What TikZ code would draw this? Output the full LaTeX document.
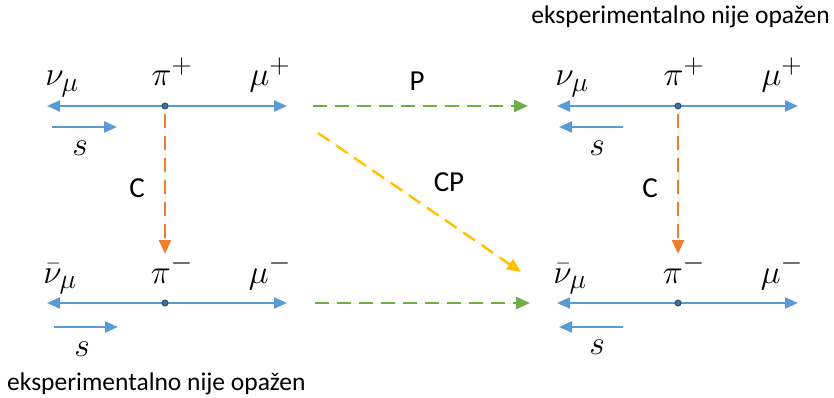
\documentclass[tikz,border=0pt]{standalone}
\usepackage{graphicx}
\usepackage{fontspec}
\setmainfont{Carlito}
\usetikzlibrary{arrows.meta}
\definecolor{cblue}{HTML}{5B9BD5}
\definecolor{cdot}{HTML}{41719C}
\definecolor{corange}{HTML}{ED7D31}
\definecolor{cgreen}{HTML}{70AD47}
\definecolor{cyellow}{HTML}{FFC000}
\newcommand{\partsym}[1]{\scalebox{1.35}{$#1$}}
\tikzset{
  axisline/.style={draw=cblue, line width=2.4pt, {Triangle[length=13pt,width=11pt]}-{Triangle[length=13pt,width=11pt]}},
  spinarrow/.style={draw=cblue, line width=2.4pt, -{Triangle[length=13pt,width=11pt]}},
  dashedarrow/.style={line width=2.4pt, dash pattern=on 14pt off 8pt, -{Triangle[length=14pt,width=12pt]}},
  particle/.style={font=\fontsize{24.88}{24.88}\selectfont, inner sep=0pt, anchor=base},
  optxt/.style={font=\fontsize{29}{29}\selectfont, inner sep=0pt, anchor=base},
  note/.style={font=\fontsize{25.5}{25.5}\selectfont, inner sep=0pt, anchor=base},
  pdot/.style={circle, fill=cdot, draw=cdot!70!black, line width=1pt, inner sep=0pt, minimum size=6pt}
}
\begin{document}
\begin{tikzpicture}[x=1pt,y=-1pt]
\useasboundingbox (0,0) rectangle (834,398);
% ---------- left top
\coordinate (LTl) at (47,106);
\coordinate (LTr) at (287,106);
\draw[axisline] (LTl) -- (LTr);
\node[pdot] (LTd) at (165,106) {};
\node[particle] (LTnu) at (62,86) {\partsym{\nu_\mu}};
\node[particle] (LTpi) at (172,86) {\partsym{\pi^+}};
\node[particle] (LTmu) at (270,86) {\partsym{\mu^+}};
\coordinate (LTs1) at (52,127);
\coordinate (LTs2) at (117,127);
\draw[spinarrow] (LTs1) -- (LTs2);
\node[particle] (LTs) at (80,156) {\partsym{s}};
% ---------- left bottom
\coordinate (LBl) at (47,303);
\coordinate (LBr) at (287,303);
\draw[axisline] (LBl) -- (LBr);
\node[pdot] (LBd) at (165,303) {};
\node[particle] (LBnu) at (60,283) {\partsym{\bar\nu_\mu}};
\node[particle] (LBpi) at (172,283) {\partsym{\pi^-}};
\node[particle] (LBmu) at (270,283) {\partsym{\mu^-}};
\coordinate (LBs1) at (54,327);
\coordinate (LBs2) at (118,327);
\draw[spinarrow] (LBs1) -- (LBs2);
\node[particle] (LBs) at (82,356) {\partsym{s}};
\node[note, anchor=base west] (LBnote) at (7,390) {eksperimentalno nije opažen};
% ---------- right top
\coordinate (RTl) at (557,106);
\coordinate (RTr) at (798,106);
\draw[axisline] (RTl) -- (RTr);
\node[pdot] (RTd) at (678,106) {};
\node[particle] (RTnu) at (572,86) {\partsym{\nu_\mu}};
\node[particle] (RTpi) at (684,86) {\partsym{\pi^+}};
\node[particle] (RTmu) at (782,86) {\partsym{\mu^+}};
\coordinate (RTs1) at (623,127);
\coordinate (RTs2) at (559,127);
\draw[spinarrow] (RTs1) -- (RTs2);
\node[particle] (RTs) at (597,156) {\partsym{s}};
\node[note, anchor=base east] (RTnote) at (830,24) {eksperimentalno nije opažen};
% ---------- right bottom
\coordinate (RBl) at (557,303);
\coordinate (RBr) at (798,303);
\draw[axisline] (RBl) -- (RBr);
\node[pdot] (RBd) at (678,303) {};
\node[particle] (RBnu) at (570,283) {\partsym{\bar\nu_\mu}};
\node[particle] (RBpi) at (684,283) {\partsym{\pi^-}};
\node[particle] (RBmu) at (782,283) {\partsym{\mu^-}};
\coordinate (RBs1) at (623,327);
\coordinate (RBs2) at (559,327);
\draw[spinarrow] (RBs1) -- (RBs2);
\node[particle] (RBs) at (597,354) {\partsym{s}};
% ---------- C arrows
\coordinate (LC1) at (165,114);
\coordinate (LC2) at (165,254);
\draw[dashedarrow, draw=corange, fill=corange] (LC1) -- (LC2);
\node[optxt] (LClab) at (137,197) {C};
\coordinate (RC1) at (678,114);
\coordinate (RC2) at (678,254);
\draw[dashedarrow, draw=corange, fill=corange] (RC1) -- (RC2);
\node[optxt] (RClab) at (650,197) {C};
% ---------- P arrows
\coordinate (P1) at (313,106);
\coordinate (P2) at (528,106);
\draw[dashedarrow, draw=cgreen, fill=cgreen] (P1) -- (P2);
\node[optxt] (Plab) at (417,91) {P};
\coordinate (P3) at (315,303);
\coordinate (P4) at (530,303);
\draw[dashedarrow, draw=cgreen, fill=cgreen] (P3) -- (P4);
% ---------- CP arrow
\coordinate (CP1) at (318,133);
\coordinate (CP2) at (521,272);
\draw[dashedarrow, draw=cyellow, fill=cyellow] (CP1) -- (CP2);
\node[optxt] (CPlab) at (449,191) {CP};
\end{tikzpicture}
\end{document}
